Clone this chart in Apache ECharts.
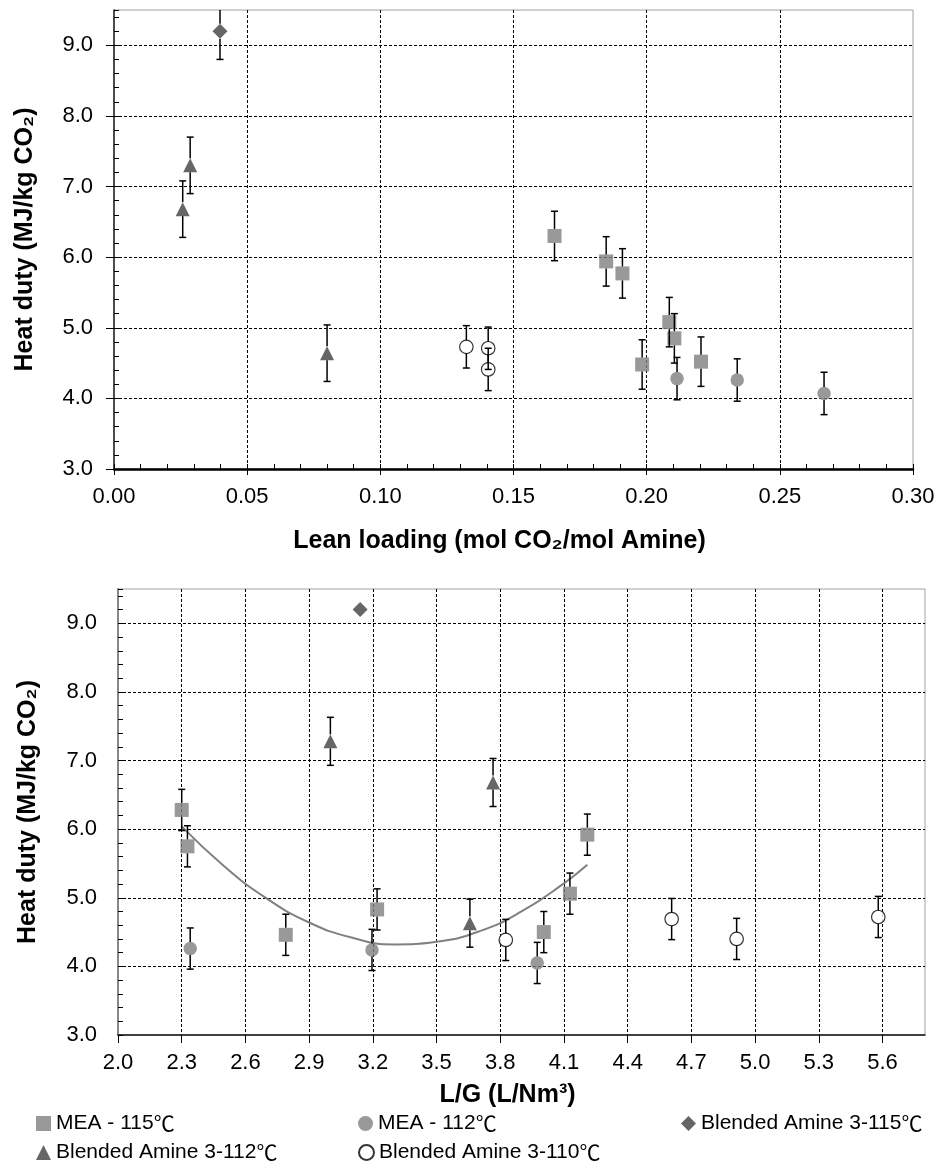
<!DOCTYPE html>
<html><head><meta charset="utf-8">
<script src="https://cdn.jsdelivr.net/npm/echarts@6/dist/echarts.min.js"></script>
<style>html,body{margin:0;padding:0;background:#fff}#c{width:939px;height:1164px}</style>
</head><body><div id="c"></div>
<script>
// ---------- Top chart: heat duty vs lean loading ----------
const llMEA115X = [0.1654, 0.1848, 0.1909, 0.1983, 0.2085, 0.2104, 0.2204];
const llMEA115Y = [6.30, 5.94, 5.77, 4.48, 5.08, 4.85, 4.52];
const llMEA115E = [0.35, 0.35, 0.35, 0.35, 0.35, 0.35, 0.35];
const llMEA112X = [0.2114, 0.2340, 0.2666];
const llMEA112Y = [4.28, 4.26, 4.07];
const llMEA112E = [0.3, 0.3, 0.3];
const llBA115X = [0.0398];
const llBA115Y = [9.20];
const llBA115E = [0.4];
const llBA112X = [0.0258, 0.0286, 0.0800];
const llBA112Y = [6.68, 7.30, 4.64];
const llBA112E = [0.4, 0.4, 0.4];
const llBA110X = [0.1323, 0.1405, 0.1405];
const llBA110Y = [4.73, 4.71, 4.41];
const llBA110E = [0.3, 0.3, 0.3];

// ---------- Bottom chart: heat duty vs L/G ----------
const lgMEA115X = [2.30, 2.327, 2.79, 3.22, 4.005, 4.128, 4.21];
const lgMEA115Y = [6.28, 5.75, 4.46, 4.83, 4.50, 5.06, 5.92];
const lgMEA115E = [0.3, 0.3, 0.3, 0.3, 0.3, 0.3, 0.3];
const lgMEA112X = [2.34, 3.196, 3.974];
const lgMEA112Y = [4.26, 4.24, 4.05];
const lgMEA112E = [0.3, 0.3, 0.3];
const lgBA115X = [3.14];
const lgBA115Y = [9.20];
const lgBA112X = [3.00, 3.657, 3.766];
const lgBA112Y = [7.28, 4.63, 6.68];
const lgBA112E = [0.35, 0.35, 0.35];
const lgBA110X = [3.826, 4.607, 4.913, 5.58];
const lgBA110Y = [4.385, 4.69, 4.40, 4.72];
const lgBA110E = [0.3, 0.3, 0.3, 0.3];
// MEA trend curve
const trendX = [2.30, 2.50, 2.70, 2.90, 3.10, 3.30, 3.50, 3.70, 3.90, 4.10, 4.21];
const trendY = [6.04, 5.46, 4.99, 4.64, 4.42, 4.32, 4.36, 4.51, 4.80, 5.21, 5.48];

// ---------- Labels ----------
const seriesNames = ['MEA - 115℃', 'MEA - 112℃', 'Blended Amine 3-115℃', 'Blended Amine 3-112℃', 'Blended Amine 3-110℃'];
const yTitle = 'Heat duty (MJ/kg CO₂)';
const xTitleTop = 'Lean loading (mol CO₂/mol Amine)';
const xTitleBottom = 'L/G (L/Nm³)';

const FONT = "'Liberation Sans', 'Noto Sans CJK SC', sans-serif";
const zip2 = (xs, ys) => xs.map((x, i) => [x, ys[i]]);
const zip3 = (xs, ys, es) => xs.map((x, i) => [x, ys[i], es[i]]);

function makeErr(gap) {
  return function (params, api) {
    const x = api.value(0), y = api.value(1), e = api.value(2);
    const c = api.coord([x, y]);
    const hi = api.coord([x, y + e]);
    const lo = api.coord([x, y - e]);
    const st = { stroke: '#000', lineWidth: 1.5 };
    const cap = 3.5;
    return {
      type: 'group',
      children: [
        { type: 'line', shape: { x1: c[0], y1: c[1] - gap, x2: c[0], y2: hi[1] }, style: st },
        { type: 'line', shape: { x1: c[0], y1: c[1] + gap, x2: c[0], y2: lo[1] }, style: st },
        { type: 'line', shape: { x1: c[0] - cap, y1: hi[1], x2: c[0] + cap, y2: hi[1] }, style: st },
        { type: 'line', shape: { x1: c[0] - cap, y1: lo[1], x2: c[0] + cap, y2: lo[1] }, style: st }
      ]
    };
  };
}

const styles = [
  { symbol: 'rect', size: 14, item: { color: '#808080' }, gap: 7 },
  { symbol: 'circle', size: 13.5, item: { color: '#808080' }, gap: 6.5 },
  { symbol: 'diamond', size: 15, item: { color: '#404040' }, gap: 7.5 },
  { symbol: 'triangle', size: 14, item: { color: '#404040' }, gap: 7 },
  { symbol: 'circle', size: 13.5, item: { color: '#ffffff', borderColor: '#000', borderWidth: 1.2 }, gap: 6.5 }
];

function scatter(idx, xi, yi, data) {
  const s = styles[idx];
  return {
    type: 'scatter', name: seriesNames[idx], xAxisIndex: xi, yAxisIndex: yi,
    symbol: s.symbol, symbolSize: s.size, itemStyle: s.item, data: data, z: 2,
    emphasis: { disabled: true }, silent: true
  };
}
function errSeries(idx, xi, yi, data) {
  return {
    type: 'custom', name: 'err' + idx + '_' + xi, xAxisIndex: xi, yAxisIndex: yi,
    renderItem: makeErr(styles[idx].gap), data: data, encode: { x: 0, y: 1 },
    clip: true, z: 3, silent: true
  };
}

const gridLine = { show: true, showMinLine: false, showMaxLine: false, lineStyle: { color: '#000', type: [3, 2], width: 1 } };
const labelStyle = { fontSize: 22, color: '#000', fontFamily: FONT };
const nameStyle = { fontSize: 25, fontWeight: 'bold', color: '#000', fontFamily: FONT };

const option = {
  animation: false,
  backgroundColor: '#fff',
  textStyle: { fontFamily: FONT },
  grid: [
    { left: 114, top: 10, width: 799, height: 459, show: true, borderColor: '#a0a0a0', borderWidth: 1, containLabel: false, outerBoundsMode: 'none' },
    { left: 118, top: 589, width: 807, height: 446, show: true, borderColor: '#a0a0a0', borderWidth: 1, containLabel: false, outerBoundsMode: 'none' }
  ],
  xAxis: [
    { gridIndex: 0, type: 'value', position: 'bottom', min: 0, max: 0.3, interval: 0.05,
      axisLine: { show: true, onZero: false, lineStyle: { color: '#000', width: 2.5 } },
      axisTick: { show: true, inside: false, length: 6, lineStyle: { color: '#000' } },
      axisLabel: Object.assign({ margin: 17, showMaxLabel: true, formatter: v => v.toFixed(2) }, labelStyle),
      splitLine: gridLine,
      name: xTitleTop, nameLocation: 'middle', nameGap: 60,
      nameTextStyle: Object.assign({ padding: [0, 28, 0, 0] }, nameStyle) },
    { gridIndex: 0, type: 'value', position: 'bottom', min: 0, max: 0.3, interval: 0.01,
      axisLine: { show: false, onZero: false }, axisLabel: { show: false }, splitLine: { show: false },
      axisTick: { show: true, inside: true, length: 5, lineStyle: { color: '#000' } } },
    { gridIndex: 1, type: 'value', position: 'bottom', min: 2.0, max: 5.8, interval: 0.3,
      axisLine: { show: true, onZero: false, lineStyle: { color: '#111', width: 1.5 } },
      axisTick: { show: true, inside: false, length: 8, lineStyle: { color: '#000' } },
      axisLabel: Object.assign({ margin: 17, showMaxLabel: false, formatter: v => v.toFixed(1) }, labelStyle),
      splitLine: gridLine,
      name: xTitleBottom, nameLocation: 'middle', nameGap: 48,
      nameTextStyle: Object.assign({ padding: [0, 28, 0, 0] }, nameStyle) }
  ],
  yAxis: [
    { gridIndex: 0, type: 'value', position: 'left', min: 3, max: 9.5, interval: 1,
      axisLine: { show: true, onZero: false, lineStyle: { color: '#222', width: 1.5 } },
      axisTick: { show: true, inside: false, length: 8, lineStyle: { color: '#000' } },
      axisLabel: Object.assign({ margin: 21, showMaxLabel: false, formatter: v => v.toFixed(1) }, labelStyle),
      splitLine: gridLine,
      name: yTitle, nameLocation: 'middle', nameGap: 76, nameRotate: 90, nameTextStyle: nameStyle },
    { gridIndex: 0, type: 'value', position: 'left', min: 3, max: 9.5, interval: 0.2,
      axisLine: { show: false, onZero: false }, axisLabel: { show: false }, splitLine: { show: false },
      axisTick: { show: true, inside: true, length: 5, lineStyle: { color: '#000' } } },
    { gridIndex: 1, type: 'value', position: 'left', min: 3, max: 9.5, interval: 1,
      axisLine: { show: true, onZero: false, lineStyle: { color: '#888', width: 2 } },
      axisTick: { show: false },
      axisLabel: Object.assign({ margin: 21, showMaxLabel: false, formatter: v => v.toFixed(1) }, labelStyle),
      splitLine: gridLine,
      name: yTitle, nameLocation: 'middle', nameGap: 77, nameRotate: 90, nameTextStyle: nameStyle },
    { gridIndex: 1, type: 'value', position: 'left', min: 3, max: 9.5, interval: 0.2,
      axisLine: { show: false, onZero: false }, axisLabel: { show: false }, splitLine: { show: false },
      axisTick: { show: true, inside: true, length: 5, lineStyle: { color: '#000' } } }
  ],
  legend: [
    { left: 36, top: 1113, data: [{ name: seriesNames[0], icon: 'rect' }] },
    { left: 358, top: 1113, data: [{ name: seriesNames[1], icon: 'circle' }] },
    { left: 681, top: 1113, data: [{ name: seriesNames[2], icon: 'diamond' }] },
    { left: 36, top: 1142, data: [{ name: seriesNames[3], icon: 'triangle' }] },
    { left: 358, top: 1142, data: [{ name: seriesNames[4], icon: 'circle' }] }
  ].map(l => Object.assign({
    orient: 'horizontal', padding: 0, itemWidth: 15, itemHeight: 15, itemGap: 0,
    selectedMode: false,
    formatter: n => n.replace('℃', '') + '{c|℃}',
    textStyle: { fontSize: 21, color: '#000', fontFamily: FONT,
      rich: { c: { fontSize: 21, color: '#000', fontFamily: "'Noto Sans CJK SC', sans-serif" } } }
  }, l)),
  series: [
    { type: 'line', name: 'trend', xAxisIndex: 2, yAxisIndex: 2, data: zip2(trendX, trendY),
      smooth: 0.5, showSymbol: false, symbol: 'none', lineStyle: { color: '#808080', width: 2 }, z: 1, silent: true },

    errSeries(0, 0, 0, zip3(llMEA115X, llMEA115Y, llMEA115E)),
    errSeries(1, 0, 0, zip3(llMEA112X, llMEA112Y, llMEA112E)),
    errSeries(2, 0, 0, zip3(llBA115X, llBA115Y, llBA115E)),
    errSeries(3, 0, 0, zip3(llBA112X, llBA112Y, llBA112E)),
    errSeries(4, 0, 0, zip3(llBA110X, llBA110Y, llBA110E)),
    scatter(0, 0, 0, zip2(llMEA115X, llMEA115Y)),
    scatter(1, 0, 0, zip2(llMEA112X, llMEA112Y)),
    scatter(2, 0, 0, zip2(llBA115X, llBA115Y)),
    scatter(3, 0, 0, zip2(llBA112X, llBA112Y)),
    scatter(4, 0, 0, zip2(llBA110X, llBA110Y)),

    errSeries(0, 2, 2, zip3(lgMEA115X, lgMEA115Y, lgMEA115E)),
    errSeries(1, 2, 2, zip3(lgMEA112X, lgMEA112Y, lgMEA112E)),
    errSeries(3, 2, 2, zip3(lgBA112X, lgBA112Y, lgBA112E)),
    errSeries(4, 2, 2, zip3(lgBA110X, lgBA110Y, lgBA110E)),
    scatter(0, 2, 2, zip2(lgMEA115X, lgMEA115Y)),
    scatter(1, 2, 2, zip2(lgMEA112X, lgMEA112Y)),
    scatter(2, 2, 2, zip2(lgBA115X, lgBA115Y)),
    scatter(3, 2, 2, zip2(lgBA112X, lgBA112Y)),
    scatter(4, 2, 2, zip2(lgBA110X, lgBA110Y))
  ]
};

const chart = echarts.init(document.getElementById('c'), null, { renderer: 'canvas' });
chart.setOption(option);
</script>
</body></html>
